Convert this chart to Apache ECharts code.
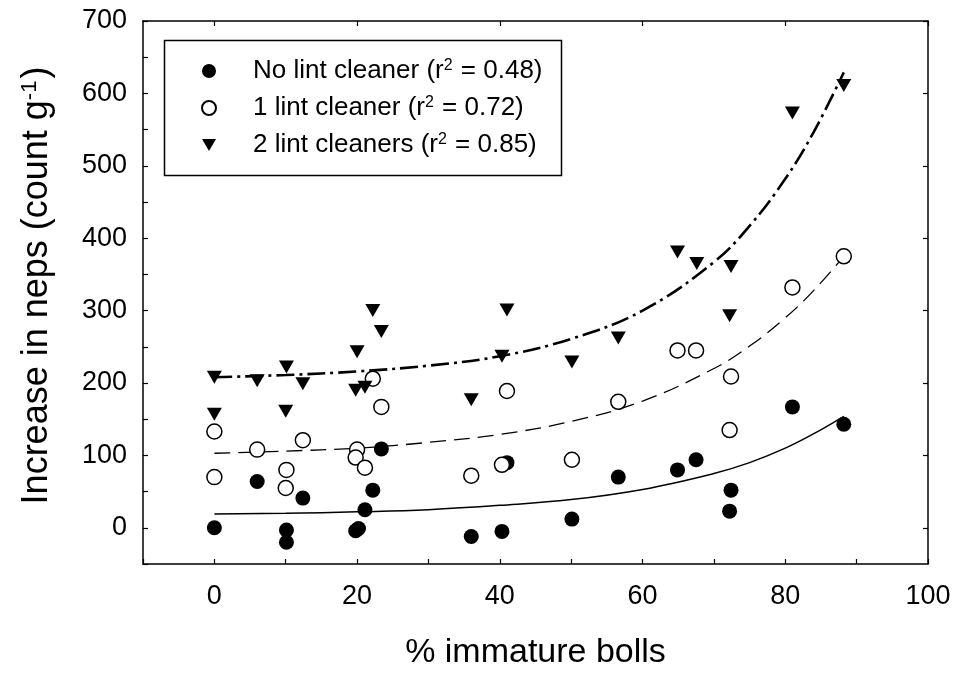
<!DOCTYPE html>
<html>
<head>
<meta charset="utf-8">
<script src="https://cdn.jsdelivr.net/npm/echarts@6/dist/echarts.min.js"></script>
<style>
html,body{margin:0;padding:0;background:#fff;}
#chart{width:955px;height:675px;}
</style>
</head>
<body>
<div id="chart"></div>
<script>
// ---- data ----
var seriesNames = ['No lint cleaner', '1 lint cleaner', '2 lint cleaners'];
var r2Values = ['0.48', '0.72', '0.85'];

var noCleaner = [[0,0],[6,64],[10.1,-3],[10.1,-20],[12.4,41],[19.8,-4],[20.2,-1],[21.1,25],[22.2,52],[23.4,109],
  [36,-12],[40.3,-5],[41,90],[50.1,12],[56.6,70],[64.9,80],[67.5,94],[72.4,52],[72.2,23],[81,167],[88.2,143]];
var oneCleaner = [[0,133],[0,70],[6,108],[10.1,80],[10,55],[12.4,121],[20,108],[19.8,97],[21.1,83],[22.2,206],
  [23.4,167],[36,72],[40.3,87],[41,189],[50.1,94],[56.6,174],[64.9,245],[67.5,245],[72.4,209],[72.2,135],[81,332],[88.2,375]];
var twoCleaners = [[0,208],[0,157],[6,203],[10.1,222],[10,161],[12.4,199],[20,243],[19.8,190],[21.1,194],[22.2,300],
  [23.4,271],[36,177],[40.3,237],[41,301],[50.1,229],[56.6,262],[72.2,293],[64.9,381],[67.6,365],[72.4,361],[81,573],[88.2,611]];

// fitted curves, points
var fitX = [0, 10, 20, 30, 40, 50, 60, 70, 75, 80, 84, 88.2];
var fitNo  = [19, 20, 22, 25, 31, 39, 53, 75, 90, 110, 130, 154];
var fitOne = [103, 106, 110, 118, 129, 147, 175, 220, 251, 290, 328, 375];
var fitTwo = [208, 211, 216, 224, 237, 261, 300, 367, 417, 482, 547, 629];

var xTicks = [0, 20, 40, 60, 80, 100];
var yTicks = [0, 100, 200, 300, 400, 500, 600, 700];

function pairs(xs, ys) { return xs.map(function (x, i) { return [x, ys[i]]; }); }

var FONT = "'Liberation Sans', Arial, Helvetica, sans-serif";
var chart = echarts.init(document.getElementById('chart'), null, {renderer: 'canvas'});

var axisLine = {show: true, onZero: false, lineStyle: {color: '#000', width: 1.5}};
var TRI = 'path://M0,0 L14,0 L7,12 Z';

chart.setOption({
  animation: false,
  backgroundColor: '#fff',
  textStyle: {fontFamily: FONT, color: '#000'},
  grid: {left: 143, right: 27, top: 21, bottom: 106, containLabel: false},
  graphic: [{
    type: 'rect', left: 162, top: 38, z: 100,
    shape: {x: 0, y: 0, width: 397, height: 135},
    style: {fill: 'none', stroke: '#000', lineWidth: 1.5}
  }],
  legend: {
    data: [
      {name: seriesNames[0], icon: 'circle'},
      {name: seriesNames[1], icon: 'circle'},
      {name: seriesNames[2], icon: TRI}
    ],
    orient: 'vertical',
    left: 201, top: 58,
    padding: 0,
    itemWidth: 14, itemHeight: 14,
    itemGap: 11,
    z: 101,
    formatter: function (name) {
      var i = seriesNames.indexOf(name);
      return name + ' (r{sup|2} = ' + r2Values[i] + ')';
    },
    textStyle: {
      fontFamily: FONT, fontSize: 26, color: '#000', lineHeight: 26, padding: [0,0,0,32],
      rich: {sup: {fontFamily: FONT, fontSize: 16, color: '#000', verticalAlign: 'top', lineHeight: 26, padding: [0,1,10,0]}}
    }
  },
  xAxis: [{
    type: 'value', position: 'bottom', min: -10, max: 100, interval: 10,
    axisLine: axisLine,
    axisTick: {show: true, inside: true, length: 5, lineStyle: {color: '#000', width: 1.2}},
    axisLabel: {
      show: true, margin: 19, fontSize: 27, fontFamily: FONT, color: '#000',
      formatter: function (v) { return xTicks.indexOf(v) >= 0 ? String(v) : ''; }
    },
    splitLine: {show: false},
    name: '% immature bolls', nameLocation: 'middle', nameGap: 72,
    nameTextStyle: {fontSize: 34, fontFamily: FONT, color: '#000'}
  }, {
    type: 'value', position: 'top', min: -10, max: 100,
    axisLine: axisLine,
    axisTick: {show: true, inside: true, length: 5, customValues: xTicks, lineStyle: {color: '#000', width: 1.2}},
    axisLabel: {show: false},
    splitLine: {show: false}
  }],
  yAxis: [{
    type: 'value', position: 'left', min: -50, max: 700, interval: 50,
    axisLine: axisLine,
    axisTick: {show: true, inside: true, length: 5, lineStyle: {color: '#000', width: 1.2}},
    axisLabel: {
      show: true, margin: 16, fontSize: 27, fontFamily: FONT, color: '#000',
      formatter: function (v) { return yTicks.indexOf(v) >= 0 ? String(v) : ''; }
    },
    splitLine: {show: false},
    name: 'Increase in neps (count g{sup|-1})', nameLocation: 'middle', nameGap: 88,
    nameTextStyle: {
      fontSize: 36, fontFamily: FONT, color: '#000', lineHeight: 36, padding: [0, 0, 0, 14],
      rich: {sup: {fontSize: 22, fontFamily: FONT, color: '#000', verticalAlign: 'top', lineHeight: 36, padding: [0,2,14,0]}}
    }
  }, {
    type: 'value', position: 'right', min: -50, max: 700,
    axisLine: axisLine,
    axisTick: {show: true, inside: true, length: 5, customValues: yTicks, lineStyle: {color: '#000', width: 1.2}},
    axisLabel: {show: false},
    splitLine: {show: false}
  }],
  series: [
    {type: 'line', name: 'fitNo', data: pairs(fitX, fitNo), smooth: 0.4, showSymbol: false, symbol: 'none', z: 2,
      lineStyle: {color: '#000', width: 1.5, type: 'solid'}, silent: true},
    {type: 'line', name: 'fitOne', data: pairs(fitX, fitOne), smooth: 0.4, showSymbol: false, symbol: 'none', z: 2,
      lineStyle: {color: '#000', width: 1.3, type: [16, 8]}, silent: true},
    {type: 'line', name: 'fitTwo', data: pairs(fitX, fitTwo), smooth: 0.4, showSymbol: false, symbol: 'none', z: 2,
      lineStyle: {color: '#000', width: 2.6, type: [18, 5, 3, 5]}, silent: true},
    {type: 'scatter', name: seriesNames[0], data: noCleaner, symbol: 'circle', symbolSize: 15, z: 5,
      itemStyle: {color: '#000', borderColor: '#000', borderWidth: 0, opacity: 1}},
    {type: 'scatter', name: seriesNames[1], data: oneCleaner, symbol: 'circle', symbolSize: 15, z: 5,
      itemStyle: {color: '#fff', borderColor: '#000', borderWidth: 1.5, opacity: 1}},
    {type: 'scatter', name: seriesNames[2], data: twoCleaners, symbol: 'triangle', symbolRotate: 180, symbolSize: [15, 13], z: 5,
      itemStyle: {color: '#000', borderColor: '#000', borderWidth: 0, opacity: 1}}
  ]
});
</script>
</body>
</html>
